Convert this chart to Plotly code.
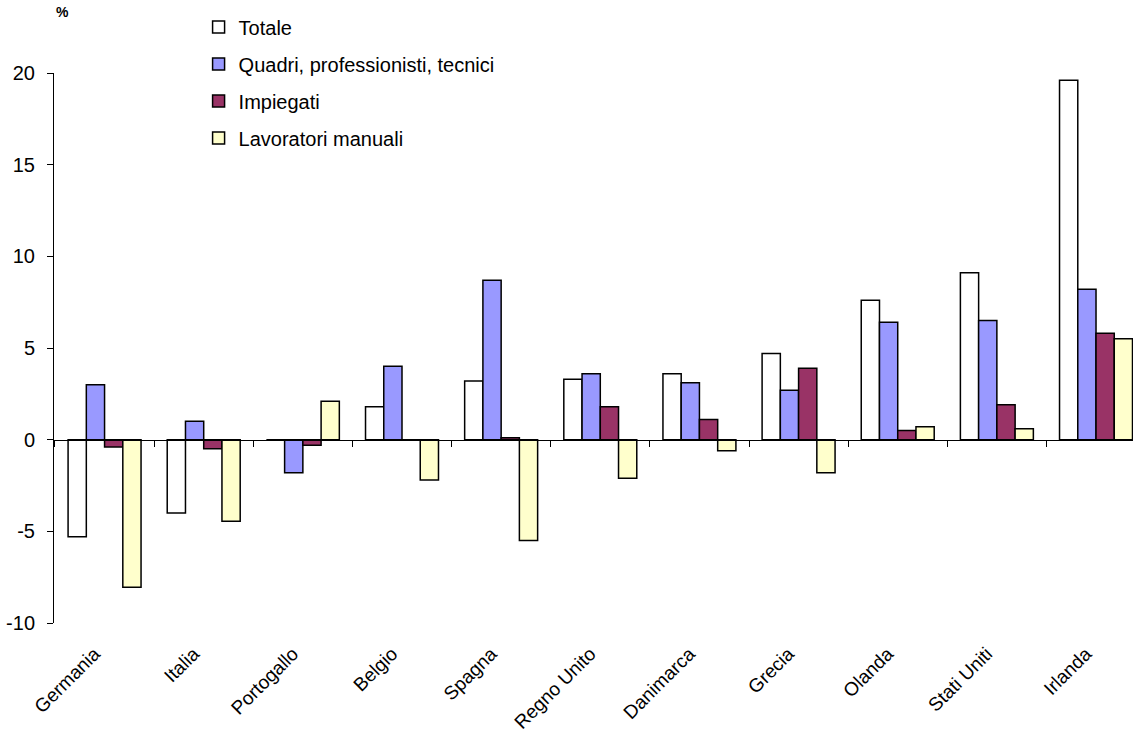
import plotly.graph_objects as go

countries = ["Germania", "Italia", "Portogallo", "Belgio", "Spagna", "Regno Unito",
             "Danimarca", "Grecia", "Olanda", "Stati Uniti", "Irlanda"]
totale = [-5.3, -4.0, 0.0, 1.8, 3.2, 3.3, 3.6, 4.7, 7.6, 9.1, 19.6]
quadri = [3.0, 1.0, -1.8, 4.0, 8.7, 3.6, 3.1, 2.7, 6.4, 6.5, 8.2]
impiegati = [-0.4, -0.5, -0.3, 0.0, 0.1, 1.8, 1.1, 3.9, 0.5, 1.9, 5.8]
manuali = [-8.05, -4.45, 2.1, -2.2, -5.5, -2.1, -0.6, -1.8, 0.7, 0.6, 5.5]

y_tickvals = [-10, -5, 0, 5, 10, 15, 20]
y_ticktext = ["-10", "-5", "0", "5", "10", "15", "20"]

series = [
    ("Totale", totale, "#FFFFFF"),
    ("Quadri, professionisti, tecnici", quadri, "#9999FF"),
    ("Impiegati", impiegati, "#993366"),
    ("Lavoratori manuali", manuali, "#FFFFCC"),
]

FONT = "Liberation Sans, Arial, sans-serif"

fig = go.Figure()
for i, (name, vals, col) in enumerate(series):
    fig.add_trace(go.Bar(
        x=countries, y=vals, name=name, legendgroup=f"g{i}",
        marker=dict(color=col, line=dict(color="black", width=1.5)),
        xaxis="x", yaxis="y",
    ))

# invisible helper trace so the label axis knows the categories
fig.add_trace(go.Scatter(
    x=countries, y=[0] * len(countries), xaxis="x2", yaxis="y",
    mode="markers", marker=dict(opacity=0), showlegend=False, hoverinfo="skip",
))

xrange = [-0.51, 10.373]
yr = [-10, 20]

fig.update_layout(
    width=1133, height=736,
    margin=dict(l=54, r=0, t=73, b=113, autoexpand=False),
    paper_bgcolor="white", plot_bgcolor="white",
    barmode="group", bargap=0.264, bargroupgap=0,
    font=dict(family=FONT, size=20, color="black"),
    showlegend=True,
    legend=dict(
        x=0.134, y=1.119, xanchor="left", yanchor="top",
        font=dict(family=FONT, size=20, color="black"),
        traceorder="grouped", tracegroupgap=8,
        bgcolor="rgba(0,0,0,0)", itemwidth=30,
    ),
    xaxis=dict(
        type="category", range=xrange, domain=[0, 1],
        anchor="free", position=(0 - yr[0]) / (yr[1] - yr[0]),
        showline=True, linecolor="black", linewidth=1,
        ticks="outside", tickson="boundaries", ticklen=6, tickcolor="black",
        showticklabels=False, showgrid=False, zeroline=False,
    ),
    xaxis2=dict(
        type="category", range=xrange, overlaying="x", anchor="y", side="bottom",
        showline=False, ticks="", showgrid=False, zeroline=False,
        tickangle=-45, tickfont=dict(family=FONT, size=19, color="black"),
        ticklabelstandoff=15, ticklabelshift=-10,
        automargin=False,
    ),
    yaxis=dict(
        range=yr, tickvals=y_tickvals, ticktext=y_ticktext,
        showline=True, linecolor="black", linewidth=1,
        ticks="outside", ticklen=6, tickcolor="black",
        showgrid=False, zeroline=False,
        tickfont=dict(family=FONT, size=20, color="black"),
        ticklabelstandoff=8,
        automargin=False,
    ),
    annotations=[dict(
        text="<b>%</b>", xref="paper", yref="paper", x=0.0, y=1.11,
        xanchor="left", yanchor="middle", showarrow=False,
        font=dict(family=FONT, size=14, color="black"),
    )],
)

fig.write_html("out.html")
